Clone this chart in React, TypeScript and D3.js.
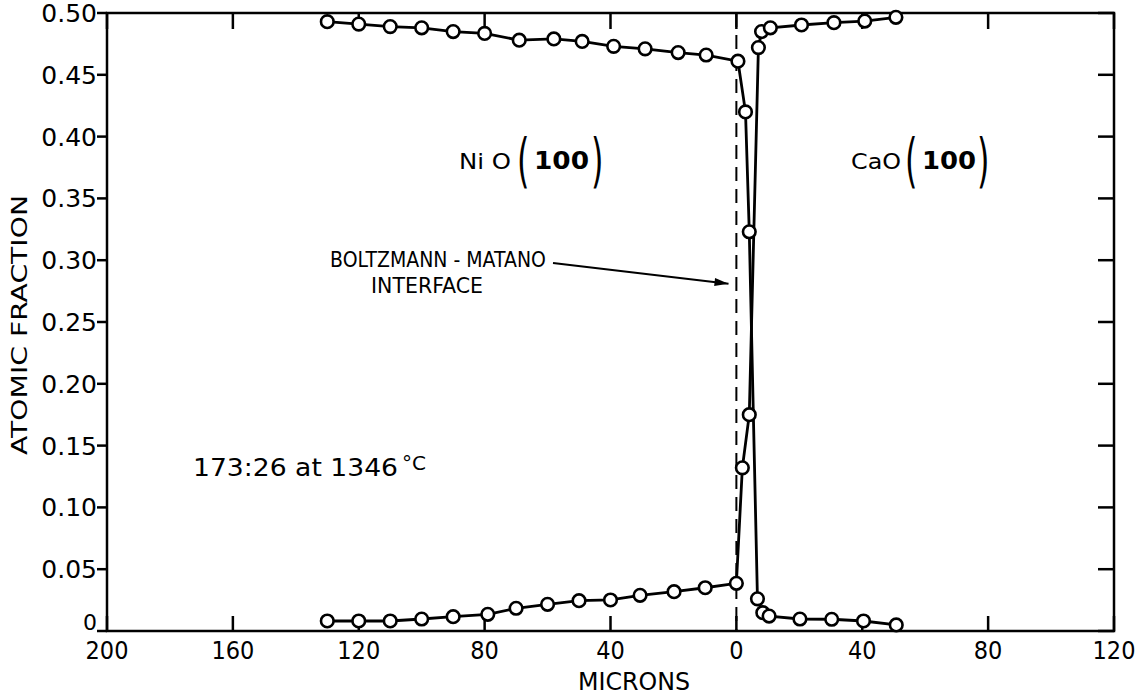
import React from "react";
import * as d3 from "d3";

// Microns (negative = NiO side, positive = CaO side)
const niX = [-130, -120, -110, -100, -90, -80, -69, -58, -49, -39, -29, -18.5, -9.6, 0.5, 2.9, 4.1, 6.7, 8.4, 10.4, 20.2, 30.3, 40.4, 50.8];
const niY = [0.493, 0.491, 0.489, 0.488, 0.485, 0.4835, 0.478, 0.479, 0.477, 0.473, 0.471, 0.468, 0.466, 0.461, 0.42, 0.323, 0.026, 0.0148, 0.0121, 0.0097, 0.0095, 0.0081, 0.0049];
const caX = [-130, -120, -110, -100, -90, -79, -70, -60, -50, -40, -30.6, -19.8, -9.9, 0, 1.9, 4.1, 7.0, 8.0, 10.8, 20.7, 31, 40.8, 50.7];
const caY = [0.0081, 0.0081, 0.0081, 0.0097, 0.0116, 0.0135, 0.0184, 0.0216, 0.0245, 0.0251, 0.0289, 0.0318, 0.035, 0.0386, 0.132, 0.175, 0.472, 0.485, 0.488, 0.4903, 0.4922, 0.4935, 0.4965];

const xTicks = [-200, -160, -120, -80, -40, 0, 40, 80, 120];
const yTicks = [0, 0.05, 0.1, 0.15, 0.2, 0.25, 0.3, 0.35, 0.4, 0.45, 0.5];

const W = 1146;
const H = 699;
const L = 107, R = 1114, T = 13, B = 631;

export default function App() {
  const x = d3.scaleLinear().domain([-200, 120]).range([L, R]);
  const y = d3.scaleLinear().domain([0, 0.5]).range([B, T]);
  const line = d3.line<[number, number]>().x((d) => x(d[0])).y((d) => y(d[1]));
  const ni: [number, number][] = niX.map((v, i) => [v, niY[i]]);
  const ca: [number, number][] = caX.map((v, i) => [v, caY[i]]);
  const sans = "'DejaVu Sans', 'Liberation Sans', sans-serif";
  const cond = "'DejaVu Sans Condensed', 'Liberation Sans Narrow', 'DejaVu Sans', sans-serif";

  const arrowEnd: [number, number] = [x(-2.5), y(0.281)];
  const arrowStart: [number, number] = [553, 263];
  const ang = Math.atan2(arrowEnd[1] - arrowStart[1], arrowEnd[0] - arrowStart[0]);
  const ah = 14, aw = 4;
  const p1 = [arrowEnd[0] - ah * Math.cos(ang) + aw * Math.sin(ang), arrowEnd[1] - ah * Math.sin(ang) - aw * Math.cos(ang)];
  const p2 = [arrowEnd[0] - ah * Math.cos(ang) - aw * Math.sin(ang), arrowEnd[1] - ah * Math.sin(ang) + aw * Math.cos(ang)];

  const paren = (px: number, ch: string) => (
    <text transform={`translate(${px},181) scale(0.55,1)`} x={0} y={0} fontFamily={sans} fontSize={58} fontWeight={400}>
      {ch}
    </text>
  );

  return (
    <svg width={W} height={H} style={{ position: "absolute", left: 0, top: 0, background: "#fff" }}>
      <rect x={0} y={0} width={W} height={H} fill="#fff" />
      {/* frame */}
      <rect x={L} y={T} width={R - L} height={B - T} fill="none" stroke="#000" strokeWidth={2.5} />
      {/* x ticks */}
      {xTicks.map((t) => (
        <g key={"xt" + t}>
          <line x1={x(t)} x2={x(t)} y1={B} y2={B - 15} stroke="#000" strokeWidth={2.5} />
          <line x1={x(t)} x2={x(t)} y1={T} y2={T + 16} stroke="#000" strokeWidth={2.5} />
          <text x={x(t)} y={659} textAnchor="middle" fontFamily={cond} fontSize={25} fill="#000">
            {Math.abs(t)}
          </text>
        </g>
      ))}
      {/* y ticks */}
      {yTicks.map((t) => (
        <g key={"yt" + t}>
          <line x1={L - 10} x2={L} y1={y(t)} y2={y(t)} stroke="#000" strokeWidth={2.5} />
          <line x1={R - 16} x2={R} y1={y(t)} y2={y(t)} stroke="#000" strokeWidth={2.5} />
          <text
            x={97}
            y={t === 0 ? y(t) - 1 : y(t) + 9}
            textAnchor="end"
            fontFamily={sans}
            fontSize={t === 0 ? 22 : 25}
            fill="#000"
          >
            {t === 0 ? "0" : t.toFixed(2)}
          </text>
        </g>
      ))}
      {/* axis titles */}
      <text x={578} y={690} fontFamily={cond} fontSize={25} textLength={112} lengthAdjust="spacingAndGlyphs" fill="#000">
        MICRONS
      </text>
      <text
        transform="translate(27,455) rotate(-90)"
        x={0}
        y={0}
        fontFamily={sans}
        fontSize={21}
        textLength={260}
        lengthAdjust="spacingAndGlyphs"
        fill="#000"
      >
        ATOMIC FRACTION
      </text>
      {/* Boltzmann-Matano interface */}
      <line x1={x(0)} x2={x(0)} y1={T} y2={B} stroke="#000" strokeWidth={2} strokeDasharray="14 8" />
      {/* curves */}
      <path d={line(ni) || ""} fill="none" stroke="#000" strokeWidth={2.8} />
      <path d={line(ca) || ""} fill="none" stroke="#000" strokeWidth={2.8} />
      {ni.map((d, i) => (
        <circle key={"n" + i} cx={x(d[0])} cy={y(d[1])} r={6.3} fill="#fff" stroke="#000" strokeWidth={2.6} />
      ))}
      {ca.map((d, i) => (
        <circle key={"c" + i} cx={x(d[0])} cy={y(d[1])} r={6.3} fill="#fff" stroke="#000" strokeWidth={2.6} />
      ))}
      {/* annotations */}
      <text x={459} y={169} fontFamily={sans} fontSize={22} textLength={52} lengthAdjust="spacingAndGlyphs">Ni O</text>
      {paren(517, "(")}
      <text x={534} y={169} fontFamily={sans} fontSize={24} fontWeight="bold" textLength={55} lengthAdjust="spacingAndGlyphs">100</text>
      {paren(591, ")")}

      <text x={851} y={169} fontFamily={sans} fontSize={22} textLength={50} lengthAdjust="spacingAndGlyphs">CaO</text>
      {paren(905, "(")}
      <text x={922} y={169} fontFamily={sans} fontSize={24} fontWeight="bold" textLength={54} lengthAdjust="spacingAndGlyphs">100</text>
      {paren(977, ")")}

      <text x={330} y={267} fontFamily={sans} fontSize={22} textLength={216} lengthAdjust="spacingAndGlyphs">BOLTZMANN - MATANO</text>
      <text x={371} y={293} fontFamily={sans} fontSize={22} textLength={112} lengthAdjust="spacingAndGlyphs">INTERFACE</text>
      <line x1={arrowStart[0]} y1={arrowStart[1]} x2={arrowEnd[0]} y2={arrowEnd[1]} stroke="#000" strokeWidth={2} />
      <polygon points={`${arrowEnd[0]},${arrowEnd[1]} ${p1[0]},${p1[1]} ${p2[0]},${p2[1]}`} fill="#000" />

      <text x={193} y={476} fontFamily={sans} fontSize={24} textLength={205} lengthAdjust="spacingAndGlyphs">173:26 at 1346</text>
      <text x={402} y={470} fontFamily={sans} fontSize={20}>°C</text>
    </svg>
  );
}
